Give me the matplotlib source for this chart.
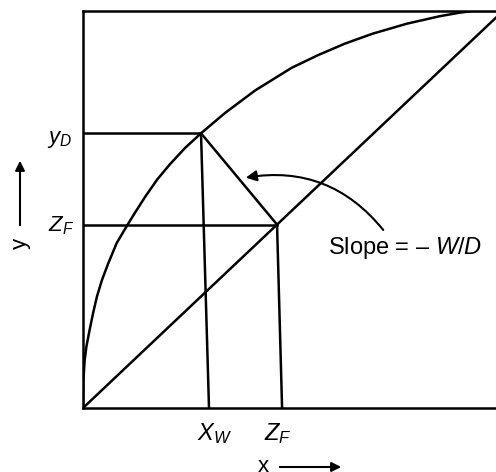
import numpy as np
import matplotlib.pyplot as plt
from matplotlib.patches import FancyArrowPatch

plt.rcParams['font.family'] = ['Liberation Sans', 'DejaVu Sans']
plt.rcParams['mathtext.fontset'] = 'custom'
plt.rcParams['mathtext.rm'] = 'Liberation Sans'
plt.rcParams['mathtext.it'] = 'Liberation Sans:italic'

# equilibrium curve
eq_x = [0.0, 0.001, 0.004, 0.008, 0.016, 0.024, 0.033, 0.045, 0.060, 0.080,
        0.104, 0.125, 0.148, 0.177, 0.207, 0.243, 0.281, 0.338, 0.410, 0.497,
        0.560, 0.624, 0.690, 0.771, 0.850, 0.898, 0.929, 0.983]
eq_y = [0.0, 0.071, 0.121, 0.154, 0.198, 0.239, 0.280, 0.322, 0.364, 0.415,
        0.458, 0.494, 0.532, 0.576, 0.614, 0.655, 0.692, 0.743, 0.800, 0.857,
        0.889, 0.918, 0.943, 0.968, 0.987, 0.996, 1.0, 1.0]

# key compositions
x_W = 0.281      # top of the x_W line, on the curve
x_W_base = 0.30  # foot of the x_W line on the x axis
y_D = 0.692
z_F = 0.462
z_F_base = 0.474

fig = plt.figure(figsize=(4.96, 4.72), dpi=100)
ax = fig.add_axes([83 / 496, 64 / 472, 420 / 496, 397 / 472])
ax.set_xlim(0, 1)
ax.set_ylim(0, 1)

lw = 1.8
ax.plot(eq_x, eq_y, color='black', lw=lw, solid_joinstyle='round')
ax.plot([0, 1], [0, 1], color='black', lw=lw)

# y_D and z_F levels
ax.plot([0, x_W], [y_D, y_D], color='black', lw=lw)
ax.plot([0, z_F], [z_F, z_F], color='black', lw=lw)
# verticals down to the x axis
ax.plot([x_W, x_W_base], [y_D, 0], color='black', lw=lw)
ax.plot([z_F, z_F_base], [z_F, 0], color='black', lw=lw)
# operating line, slope -W/D
ax.plot([x_W, z_F], [y_D, z_F], color='black', lw=lw)

for s in ax.spines.values():
    s.set_linewidth(lw)
ax.set_xticks([])
ax.set_yticks([])

ax.annotate('', xy=(0.381, 0.579), xytext=(0.719, 0.443),
            arrowprops=dict(arrowstyle='-|>', color='black', lw=1.5,
                            mutation_scale=16,
                            connectionstyle='arc3,rad=0.3'))
fig.text(405 / 496, 1 - 248 / 472, 'Slope = \u2013 $W/D$', fontsize=17,
         ha='center', va='center')

fs = 16
fig.text(72 / 496, 1 - 140 / 472, r'$y_D$', fontsize=fs, ha='right', va='center')
fig.text(74 / 496, 1 - 226 / 472, r'$Z_F$', fontsize=fs, ha='right', va='center')
fig.text(215 / 496, 1 - 434 / 472, r'$X_W$', fontsize=17, ha='center', va='center')
fig.text(278 / 496, 1 - 434 / 472, r'$Z_F$', fontsize=17, ha='center', va='center')

# axis direction arrows
fig.text(20 / 496, 1 - 243 / 472, 'y', fontsize=fs, rotation=90, ha='center', va='center')
fig.text(263 / 496, 1 - 466 / 472, 'x', fontsize=fs, ha='center', va='center')
fig.add_artist(FancyArrowPatch(
    (20 / 496, 1 - 228 / 472), (20 / 496, 1 - 158 / 472), transform=fig.transFigure,
    arrowstyle='-|>', mutation_scale=14, color='black', lw=1.5))
fig.add_artist(FancyArrowPatch(
    (277 / 496, 1 - 467 / 472), (344 / 496, 1 - 467 / 472), transform=fig.transFigure,
    arrowstyle='-|>', mutation_scale=14, color='black', lw=1.5))

fig.savefig('out.png', dpi=100)
